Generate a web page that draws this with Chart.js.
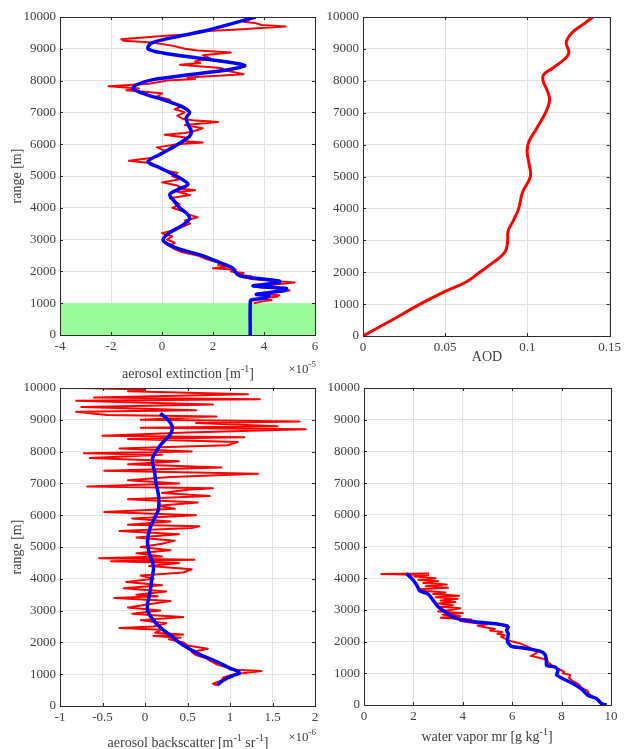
<!DOCTYPE html>
<html>
<head>
<meta charset="utf-8">
<script src="https://cdn.jsdelivr.net/npm/chart.js@4.4.0/dist/chart.umd.min.js"></script>
<style>
html, body { margin: 0; padding: 0; background: #fff; }
#wrap { position: relative; width: 625px; height: 749px; }
#wrap canvas { position: absolute; left: 0; top: 0; }
</style>
</head>
<body>
<div id="wrap">
  <canvas id="ext" width="625" height="749"></canvas>
  <canvas id="aod" width="625" height="749"></canvas>
  <canvas id="bsc" width="625" height="749"></canvas>
  <canvas id="wv" width="625" height="749"></canvas>
</div>
<script>
// Aerosol extinction (x1e-5 m^-1), red = raw, blue = smoothed
const extRedRange = [1000, 1050, 1100, 1150, 1200, 1250, 1300, 1350, 1400, 1450, 1500, 1550, 1600, 1650, 1700, 1750, 1800, 1850, 1900, 1950,
  2000, 2050, 2100, 2150, 2200, 2250, 2300, 2400, 2500, 2600, 2700, 2800, 2900, 3000, 3100, 3200, 3300, 3400, 3500, 3600,
  3700, 3800, 3900, 4000, 4100, 4200, 4300, 4400, 4500, 4550, 4600, 4700, 4800, 4900, 5000, 5100, 5200, 5300, 5400, 5480,
  5550, 5600, 5700, 5800, 5900, 6000, 6050, 6100, 6200, 6300, 6350, 6400, 6500, 6600, 6700, 6750, 6800, 6900, 7000, 7100,
  7200, 7300, 7400, 7500, 7600, 7700, 7750, 7820, 7900, 8000, 8050, 8100, 8200, 8300, 8400, 8500, 8550, 8600, 8700, 8800,
  8880, 8950, 9000, 9100, 9200, 9250, 9300, 9400, 9450, 9500, 9550, 9600, 9700, 9750, 9800, 9850, 9900, 10000];
const extRedValue = [3.6, 3.9, 4.3, 3.8, 4.5, 4.6, 3.7, 4.6, 5.0, 4.8, 3.8, 4.0, 4.6, 5.2, 4.4, 3.6, 3.3, 3.5, 2.9, 3.2,
  2.7, 2.9, 2.0, 2.6, 2.2, 2.4, 2.1, 1.7, 1.4, 0.8, 0.5, 0.3, 0.5, 0.2, 0.4, 0.0, 0.5, 0.8, 1.1, 0.9,
  1.4, 1.0, 0.8, 0.4, 0.7, 0.5, 0.3, 1.1, 0.6, 1.3, 0.8, 0.6, 0.0, 0.7, 0.4, 0.6, 0.0, -0.2, -0.4, -1.3,
  -0.6, -0.2, 0.0, 0.1, -0.2, 0.6, 1.6, 0.8, 1.0, 0.1, 0.9, 1.2, 1.6, 0.9, 2.2, 1.2, 0.8, 0.6, 0.9, 0.5,
  0.8, 0.4, 0.3, -0.2, 0.0, -1.4, -0.9, -2.1, -0.5, 0.2, 1.3, 1.0, 3.2, 2.6, 2.3, 0.7, 1.5, 1.3, 1.9, 1.6,
  2.7, 1.4, 0.9, 0.4, -0.4, -1.5, -1.6, 0.0, 1.0, 1.2, 1.6, 2.8, 4.85, 3.9, 3.7, 3.2, 3.4, 3.4];
const extBlueRange = [0, 1020, 1100, 1150, 1230, 1280, 1390, 1460, 1540, 1650, 1700, 1760, 1860, 2000, 2100, 2280, 2490, 2700, 2850, 3000,
  3220, 3430, 3660, 3840, 4000, 4260, 4420, 4580, 4740, 5000, 5260, 5450, 5730, 6000, 6250, 6410, 6620, 6830, 7000, 7190,
  7400, 7560, 7740, 7870, 8030, 8200, 8350, 8480, 8700, 8870, 9000, 9180, 9400, 9600, 9800, 10000];
const extBlueValue = [3.46, 3.46, 3.5, 3.96, 4.2, 3.7, 4.75, 4.88, 3.57, 4.6, 4.6, 3.96, 3.05, 2.85, 2.78, 2.26, 1.61, 0.69, 0.24, 0.04,
  0.3, 0.76, 1.08, 0.95, 0.69, 0.43, 0.3, 0.63, 1.02, 0.56, -0.09, -0.55, 0.04, 0.63, 1.08, 1.15, 1.02, 0.95, 1.08, 0.76,
  0.04, -0.61, -1.14, -1.0, -0.35, 1.22, 2.65, 3.24, 1.48, 0.04, -0.55, -0.42, 0.69, 1.87, 2.78, 3.67];
// region below 1000 m (green patch)
const blindRange = [1000, 1000];
const blindValue = [-4, 6];

// Aerosol optical depth
const aodRange = [0, 500, 1000, 1400, 1700, 2000, 2300, 2500, 2700, 3000, 3300, 3600, 4000, 4500, 5000, 5400, 5800, 6100, 6500, 7000,
  7400, 7700, 8000, 8200, 8400, 8700, 8900, 9200, 9500, 9800, 10000];
const aodValue = [0, 0.0176, 0.0347, 0.05, 0.063, 0.071, 0.079, 0.084, 0.087, 0.088, 0.0883, 0.0913, 0.0947, 0.097, 0.1018, 0.101, 0.0998, 0.101, 0.1055, 0.111,
  0.1135, 0.112, 0.1095, 0.11, 0.1155, 0.123, 0.1252, 0.1236, 0.127, 0.1347, 0.1398];

// Aerosol backscatter (x1e-6 m^-1 sr^-1)
const bscRedRange = [650, 700, 800, 900, 1000, 1100, 1150, 1200, 1300, 1400, 1500, 1600, 1700, 1800, 1900, 2000, 2100, 2150, 2200, 2250,
  2300, 2400, 2450, 2500, 2600, 2700, 2800, 2850, 2900, 3000, 3100, 3200, 3300, 3400, 3450, 3500, 3600, 3700, 3800, 3900,
  4000, 4100, 4200, 4300, 4400, 4500, 4550, 4600, 4650, 4700, 4800, 4900, 5000, 5100, 5200, 5300, 5400, 5500, 5600, 5650,
  5700, 5800, 5900, 6000, 6100, 6200, 6300, 6400, 6500, 6600, 6700, 6800, 6850, 6900, 7000, 7100, 7200, 7300, 7400, 7500,
  7600, 7700, 7800, 7900, 7950, 8000, 8100, 8200, 8300, 8400, 8450, 8500, 8600, 8700, 8750, 8800, 8900, 8950, 9000, 9100,
  9150, 9250, 9300, 9400, 9480, 9550, 9600, 9650, 9700, 9800, 9900, 9950, 10000];
const bscRedValue = [0.85, 0.8, 0.9, 0.92, 1.05, 1.37, 1.0, 0.98, 0.85, 0.78, 0.72, 0.6, 0.55, 0.74, 0.5, 0.45, 0.28, 0.42, 0.1, 0.45,
  0.12, 0.2, -0.3, 0.1, 0.25, -0.05, 0.45, 0.1, -0.15, 0.18, -0.2, 0.05, 0.3, -0.36, 0.15, -0.1, 0.25, -0.25, 0.2, -0.22,
  0.1, -0.05, 0.45, 0.55, 0.05, 0.4, -0.4, 0.58, -0.54, 0.2, -0.1, 0.3, -0.05, 0.2, 0.35, -0.1, 0.4, -0.3, 0.55, 0.64,
  -0.2, 0.3, -0.15, 0.6, -0.48, 0.35, 0.15, 0.62, -0.2, 0.76, 0.2, 0.5, 0.8, -0.68, 0.4, -0.2, 0.3, 1.33, -0.48, 0.9,
  -0.2, 0.4, -0.65, 0.2, -0.72, 0.55, -0.3, 0.97, 1.09, -0.2, 1.17, -0.5, 0.5, 1.89, -0.05, 1.56, 0.6, 1.82, -0.05, 0.84,
  -0.45, -0.81, 0.6, -0.75, 0.8, -0.2, -0.81, 1.35, -0.6, 1.21, -0.2, 0.0, -0.73];
const bscBlueRange = [650, 750, 850, 950, 1050, 1200, 1400, 1600, 1800, 2000, 2200, 2400, 2600, 2800, 3000, 3200, 3600, 4000, 4400, 4800,
  5200, 5600, 6000, 6200, 6600, 7000, 7400, 7600, 7800, 8000, 8200, 8400, 8600, 8800, 9000, 9200];
const bscBlueValue = [0.85, 0.89, 0.95, 1.03, 1.11, 0.99, 0.84, 0.66, 0.52, 0.4, 0.31, 0.21, 0.13, 0.07, 0.03, 0.03, 0.06, 0.08, 0.1, 0.05,
  0.03, 0.06, 0.13, 0.16, 0.16, 0.13, 0.11, 0.09, 0.09, 0.13, 0.18, 0.25, 0.31, 0.32, 0.27, 0.18];

// Water vapor mixing ratio (g/kg)
const wvRedRange = [0, 50, 150, 250, 350, 450, 500, 550, 650, 750, 850, 950, 1000, 1050, 1150, 1250, 1350, 1450, 1550, 1600,
  1650, 1750, 1850, 1950, 2000, 2050, 2100, 2150, 2200, 2250, 2300, 2350, 2400, 2450, 2500, 2550, 2600, 2650, 2700, 2750,
  2800, 2850, 2900, 2950, 3000, 3050, 3100, 3150, 3200, 3250, 3300, 3350, 3400, 3450, 3500, 3550, 3600, 3650, 3700, 3750,
  3800, 3850, 3900, 3950, 4000, 4050, 4100, 4130, 4150];
const wvRedValue = [9.7, 9.55, 9.45, 9.3, 9.1, 9.05, 8.9, 8.8, 8.7, 8.45, 8.3, 8.35, 8.05, 8.1, 7.85, 7.6, 7.45, 7.3, 6.75, 6.9,
  7.0, 6.85, 6.6, 6.3, 6.0, 5.8, 5.7, 5.55, 5.7, 5.4, 5.6, 5.1, 5.3, 4.9, 4.6, 5.0, 4.3, 3.9, 4.35, 3.1,
  3.9, 3.2, 4.0, 3.0, 3.5, 3.9, 3.1, 3.6, 3.0, 3.7, 3.1, 3.8, 2.9, 3.85, 2.8, 3.3, 2.5, 2.2, 3.4, 2.5,
  3.35, 2.4, 3.0, 2.2, 2.9, 2.05, 2.6, 0.7, 2.64];
const wvBlueRange = [0, 50, 200, 300, 500, 700, 850, 950, 1100, 1200, 1250, 1400, 1600, 1700, 1800, 1850, 2000, 2250, 2350, 2450,
  2500, 2570, 2620, 2700, 2800, 2950, 3100, 3300, 3500, 3600, 3800, 4000, 4150];
const wvBlueValue = [9.82, 9.62, 9.42, 9.08, 8.81, 8.4, 8.0, 7.8, 7.86, 7.73, 7.39, 7.39, 7.32, 7.12, 6.45, 5.97, 5.81, 5.84, 5.77, 5.84,
  5.77, 5.23, 4.55, 3.88, 3.54, 3.27, 3.0, 2.8, 2.6, 2.26, 2.12, 1.92, 1.72];

// tick labels
const rangeTicks = [0, 1000, 2000, 3000, 4000, 5000, 6000, 7000, 8000, 9000, 10000];
const extTicks = [-4, -2, 0, 2, 4, 6];
const aodTicks = [0, 0.05, 0.1, 0.15];
const bscTicks = [-1, -0.5, 0, 0.5, 1, 1.5, 2];
const wvTicks = [0, 2, 4, 6, 8, 10];

const FONT = 'Liberation Serif, Times New Roman, serif';
const TEXT = '#404040';
const W = 625, H = 749;
const Y_W = 50, X_H = 20;

function pts(ys, xs) {
  return ys.map((y, i) => ({ x: xs[i], y: y }));
}

// draw text with superscript pieces; parts = [[text, isSup], ...]
function drawRich(ctx, parts, x, y, size, align, rotate) {
  ctx.save();
  ctx.translate(x, y);
  if (rotate) ctx.rotate(-Math.PI / 2);
  const supSize = Math.round(size * 0.7);
  let total = 0;
  parts.forEach(p => {
    ctx.font = (p[1] ? supSize : size) + 'px ' + FONT;
    total += ctx.measureText(p[0]).width;
  });
  let cx = align === 'right' ? -total : -total / 2;
  ctx.fillStyle = TEXT;
  ctx.textBaseline = 'alphabetic';
  ctx.textAlign = 'left';
  parts.forEach(p => {
    ctx.font = (p[1] ? supSize : size) + 'px ' + FONT;
    ctx.fillText(p[0], cx, p[1] ? -size * 0.45 : 0);
    cx += ctx.measureText(p[0]).width;
  });
  ctx.restore();
}

// box, inner tick marks and axis titles
function framePlugin(texts) {
  return {
    id: 'frame',
    afterDatasetsDraw(chart) {
      const ctx = chart.ctx, a = chart.chartArea;
      const xs = chart.scales.x, ys = chart.scales.y;
      ctx.save();
      ctx.strokeStyle = '#2b2b2b';
      ctx.lineWidth = 1;
      ctx.beginPath();
      xs.ticks.forEach(t => {
        const px = Math.round(xs.getPixelForValue(t.value)) + 0.5;
        ctx.moveTo(px, a.bottom); ctx.lineTo(px, a.bottom - 3);
        ctx.moveTo(px, a.top); ctx.lineTo(px, a.top + 3);
      });
      ys.ticks.forEach(t => {
        const py = Math.round(ys.getPixelForValue(t.value)) + 0.5;
        ctx.moveTo(a.left, py); ctx.lineTo(a.left + 3, py);
        ctx.moveTo(a.right, py); ctx.lineTo(a.right - 3, py);
      });
      ctx.stroke();
      ctx.strokeRect(Math.round(a.left) + 0.5, Math.round(a.top) + 0.5,
        Math.round(a.right - a.left), Math.round(a.bottom - a.top));
      ctx.restore();
    },
    afterDraw(chart) {
      texts.forEach(t => drawRich(chart.ctx, t.parts, t.x, t.y, t.size, t.align, t.rotate));
    }
  };
}

function fmt(v) {
  return String(parseFloat(v.toFixed(4)));
}

function makePanel(id, area, xMin, xMax, xTicks, datasets, texts) {
  const tickFont = { family: FONT, size: 13 };
  return new Chart(document.getElementById(id), {
    type: 'scatter',
    data: { datasets: datasets },
    options: {
      responsive: false,
      animation: false,
      events: [],
      layout: {
        padding: { left: area.l - Y_W, right: W - area.r, top: area.t, bottom: H - area.b - X_H }
      },
      plugins: { legend: { display: false }, tooltip: { enabled: false } },
      scales: {
        x: {
          type: 'linear', min: xMin, max: xMax,
          afterBuildTicks: s => { s.ticks = xTicks.map(v => ({ value: v })); },
          afterFit: s => { s.height = X_H; },
          ticks: { font: tickFont, color: TEXT, padding: 4, maxRotation: 0, autoSkip: false, callback: v => fmt(v) },
          grid: { color: '#e2e2e2', drawTicks: false },
          border: { display: false }
        },
        y: {
          type: 'linear', min: 0, max: 10000,
          afterBuildTicks: s => { s.ticks = rangeTicks.map(v => ({ value: v })); },
          afterFit: s => { s.width = Y_W; },
          ticks: { font: tickFont, color: TEXT, padding: 4, autoSkip: false, callback: v => String(v) },
          grid: { color: '#e2e2e2', drawTicks: false },
          border: { display: false }
        }
      }
    },
    plugins: [framePlugin(texts)]
  });
}

function line(data, color, width, extra) {
  return Object.assign({
    data: data, showLine: true, borderColor: color, borderWidth: width,
    pointRadius: 0, fill: false, borderJoinStyle: 'round'
  }, extra || {});
}

document.addEventListener('DOMContentLoaded', () => {
  makePanel('ext', { l: 60, r: 315, t: 17, b: 335 }, -4, 6, extTicks, [
    line(pts(extBlueRange, extBlueValue), '#0000ff', 3.5, { tension: 0.3, order: 1 }),
    line(pts(extRedRange, extRedValue), '#ff0000', 2, { order: 2 }),
    line(pts(blindRange, blindValue), 'rgba(0,0,0,0)', 0, { fill: 'origin', backgroundColor: '#99fa99', order: 3 })
  ], [
    { parts: [['range [m]', false]], x: 21, y: 176, size: 14, rotate: true },
    { parts: [['aerosol extinction [m', false], ['-1', true], [']', false]], x: 188, y: 378, size: 14 },
    { parts: [['\u00d710', false], ['-5', true]], x: 316, y: 373, size: 13, align: 'right' }
  ]);

  makePanel('aod', { l: 363, r: 610, t: 17, b: 336 }, 0, 0.15, aodTicks, [
    line(pts(aodRange, aodValue), '#ff0000', 3, { tension: 0.4 })
  ], [
    { parts: [['AOD', false]], x: 487, y: 361, size: 14 }
  ]);

  makePanel('bsc', { l: 60, r: 315, t: 388, b: 706 }, -1, 2, bscTicks, [
    line(pts(bscBlueRange, bscBlueValue), '#0000ff', 3.5, { tension: 0.4, order: 1 }),
    line(pts(bscRedRange, bscRedValue), '#ff0000', 2, { order: 2 })
  ], [
    { parts: [['range [m]', false]], x: 21, y: 547, size: 14, rotate: true },
    { parts: [['aerosol backscatter [m', false], ['-1', true], [' sr', false], ['-1', true], [']', false]], x: 188, y: 747, size: 14 },
    { parts: [['\u00d710', false], ['-6', true]], x: 316, y: 741, size: 13, align: 'right' }
  ]);

  makePanel('wv', { l: 364, r: 611, t: 388, b: 705 }, 0, 10, wvTicks, [
    line(pts(wvBlueRange, wvBlueValue), '#0000ff', 3.5, { tension: 0.2, order: 1 }),
    line(pts(wvRedRange, wvRedValue), '#ff0000', 2, { order: 2 })
  ], [
    { parts: [['water vapor mr [g kg', false], ['-1', true], [']', false]], x: 487, y: 741, size: 14 }
  ]);
});
</script>
</body>
</html>
